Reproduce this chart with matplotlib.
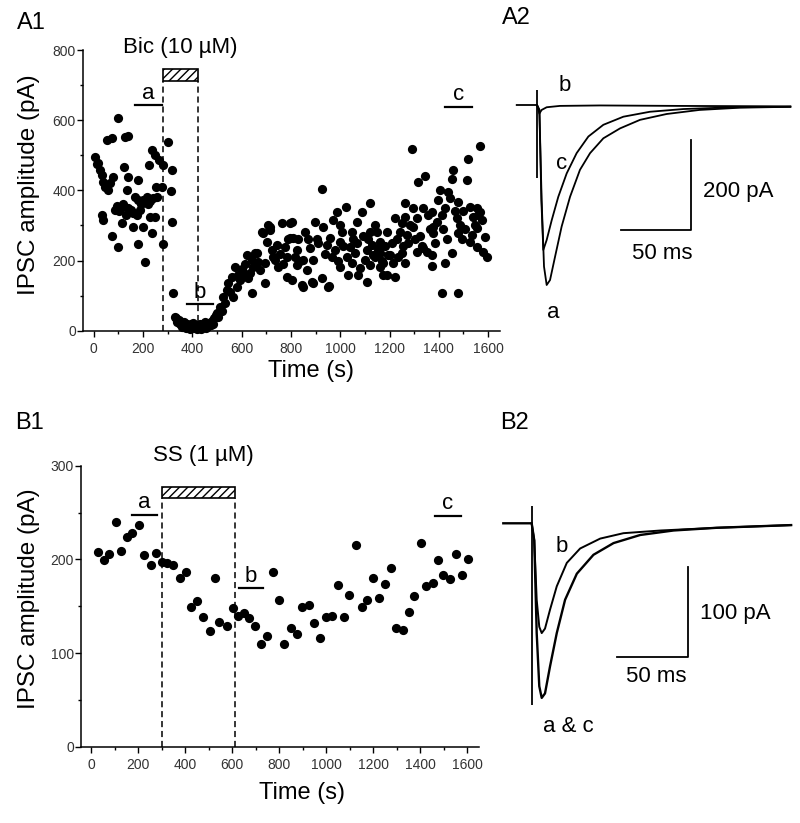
import matplotlib
matplotlib.use("Agg")
import matplotlib.pyplot as plt
from matplotlib.patches import Rectangle
from matplotlib.ticker import MultipleLocator

plt.rcParams['font.family'] = ['Liberation Sans', 'DejaVu Sans']
plt.rcParams['hatch.linewidth'] = 1.0

# ---------------- A1: bicuculline experiment (time in s, IPSC amplitude in pA)
a1_time = [
    6, 12, 17, 26, 36, 40, 47, 53, 60, 67, 74, 80, 33, 40, 74, 98, 101, 88, 95, 105,
    112, 114, 118, 125, 128, 130, 134, 141, 141, 141, 150, 161, 161, 170, 175, 179, 182, 182, 190, 192,
    202, 202, 209, 215, 220, 225, 229, 230, 236, 236, 242, 249, 249, 252, 256, 266, 276, 283, 283, 301,
    313, 317, 320, 324,
    330, 335, 340, 345, 350, 355, 360, 365, 370, 375, 380, 385, 390, 395, 400, 405, 410, 415, 420, 425,
    430, 435, 440, 445, 450, 455, 460, 465, 470, 475, 480, 485, 490,
    497, 500, 505, 513, 520, 526, 533, 540, 546, 553, 560, 567, 574, 580, 587, 594, 600, 607, 614, 621,
    628, 635, 641, 641, 648, 655, 662, 668, 675, 682, 688, 695, 695, 702, 709, 716, 716, 722, 729, 736,
    742, 749, 756, 763, 770, 776, 783, 783, 790, 796, 796, 803, 803, 810, 817, 824, 824, 830, 837, 844,
    850, 850, 857, 864, 870, 878, 884, 891, 891, 898, 905, 912, 925, 928, 932, 939, 945, 952, 956, 959,
    965, 972, 979, 986, 992, 999, 999, 999, 1006, 1013, 1024, 1026, 1033, 1040, 1047, 1047, 1053, 1060, 1067, 1067,
    1073, 1080, 1087, 1094, 1101, 1107, 1107, 1114, 1121, 1121, 1121, 1128, 1134, 1141, 1141, 1148, 1155, 1161, 1161, 1161,
    1161, 1168, 1175, 1175, 1182, 1188, 1188, 1195, 1202, 1209, 1215, 1222, 1222, 1229, 1236, 1242, 1249, 1249, 1256, 1263,
    1263, 1263, 1270, 1276, 1283, 1290, 1296, 1296, 1303, 1310, 1310, 1317, 1324, 1330, 1337, 1337, 1344, 1351, 1357, 1364,
    1371, 1371, 1371, 1377, 1377, 1384, 1391, 1398, 1405, 1411, 1411, 1418, 1425, 1425, 1432, 1438, 1445, 1452, 1452, 1458,
    1465, 1472, 1479, 1479, 1479, 1486, 1493, 1500, 1506, 1513, 1519, 1526, 1526, 1533, 1540, 1547, 1553, 1553, 1553, 1560,
    1567, 1567, 1574, 1580, 1587, 1594,
]
a1_amp = [
    496, 475, 477, 458, 444, 425, 410, 543, 401, 420, 548, 439, 330, 315, 270, 239, 605, 345, 355, 340,
    350, 306, 360, 467, 551, 330, 401, 555, 437, 349, 345, 335, 296, 380, 330, 246, 430, 372, 345, 360,
    372, 296, 197, 382, 360, 472, 323, 370, 515, 278, 377, 501, 325, 410, 382, 486, 410, 472, 247, 539,
    399, 458, 311, 108,
    40, 35, 25, 30, 18, 22, 10, 25, 15, 8, 20, 12, 5, 18, 10, 22, 8, 15, 5, 12,
    20, 6, 15, 10, 25, 8, 18, 12, 22, 15, 28, 20, 35,
    45, 50, 38, 68, 55, 97, 80, 116, 135, 110, 154, 97, 182, 125, 160, 144, 175, 164, 190, 216,
    150, 164, 201, 107, 182, 221, 221, 195, 173, 282, 278, 135, 192, 254, 301, 287, 296, 230, 210, 201,
    245, 182, 220, 306, 190, 239, 211, 154, 260, 308, 263, 311, 144, 263, 211, 230, 187, 262, 200, 130,
    201, 125, 282, 173, 262, 235, 140, 201, 135, 311, 260, 250, 403, 149, 296, 220, 244, 125, 127, 263,
    210, 316, 230, 339, 200, 301, 254, 182, 280, 240, 352, 211, 159, 239, 282, 192, 260, 221, 311, 249,
    159, 178, 339, 270, 201, 230, 140, 260, 363, 282, 187, 245, 215, 301, 211, 282, 230, 239, 182, 254,
    221, 200, 159, 192, 240, 282, 159, 215, 216, 249, 192, 320, 154, 260, 210, 280, 306, 221, 240, 363,
    325, 192, 273, 249, 300, 517, 349, 296, 260, 320, 225, 425, 270, 240, 349, 235, 441, 225, 330, 290,
    339, 216, 185, 296, 278, 250, 310, 372, 401, 330, 107, 290, 349, 194, 260, 396, 377, 431, 221, 458,
    340, 320, 368, 278, 107, 301, 260, 340, 290, 429, 488, 353, 254, 273, 325, 300, 349, 292, 239, 330,
    526, 339, 315, 225, 268, 211,
]
bic_period = [282, 425]
a1_marks = ['a', 'b', 'c']
a1_mark_start = [168, 378, 1425]
a1_mark_end = [276, 486, 1533]
a1_mark_level = [643, 76, 638]

# ---------------- B1: somatostatin experiment
b1_time = [
    28, 54, 78, 106, 127, 152, 174, 205, 226, 254, 275, 301, 325, 350, 377, 402, 426, 452, 476, 504,
    529, 546, 579, 603, 625, 649, 671, 699, 724, 750, 773, 801, 823, 851, 878, 899, 928, 950, 974, 999,
    1027, 1050, 1077, 1099, 1126, 1152, 1176, 1201, 1226, 1251, 1277, 1298, 1329, 1353, 1374, 1403, 1426, 1454, 1478, 1499,
    1528, 1553, 1577, 1603,
]
b1_amp = [
    208, 199, 206, 240, 209, 224, 228, 237, 205, 194, 207, 197, 196, 194, 180, 187, 149, 156, 139, 123,
    180, 133, 129, 148, 140, 143, 137, 129, 110, 118, 187, 157, 110, 127, 120, 149, 151, 132, 116, 139,
    140, 173, 138, 162, 215, 149, 157, 180, 159, 174, 191, 127, 125, 144, 161, 218, 172, 175, 199, 183,
    179, 206, 183, 200,
]
ss_period = [303, 614]
b1_marks = ['a', 'b', 'c']
b1_mark_start = [174, 628, 1464]
b1_mark_end = [282, 733, 1573]
b1_mark_level = [247, 169, 246]

# ---------------- A2 traces (ms, pA)
a2_a_t = [0, 1.7, 3.3, 5.0, 6.9, 9.3, 12.9, 17.6, 23.6, 30.7, 37.9, 47.4, 59.3, 73.6, 92.6, 116, 145, 181]
a2_a_i = [0, -11, -211, -359, -400, -389, -337, -270, -204, -144, -107, -74, -52, -33, -20, -11, -6, -4]
a2_c_t = [0, 1.7, 3.1, 4.5, 6.9, 10.5, 15.2, 21.2, 28.3, 36.7, 47.4, 61.7, 80.7, 104.5, 140, 181]
a2_c_i = [0, -11, -211, -322, -300, -256, -204, -152, -107, -70, -44, -26, -15, -9, -5, -4]
a2_b_t = [-14.5, 0, 1.7, 3.3, 6.9, 16.4, 45, 100, 181]
a2_b_i = [0, 0, -19, -11, -5, -2, -1, -2, -3]
a2_artifact = [33, -163]

# ---------------- B2 traces (ms, pA)
b2_ac_t = [-19.8, 0, 1.8, 3.5, 5.3, 7.0, 9.3, 12.8, 17.5, 23.3, 31.5, 43.1, 57.1, 75.7, 99, 129, 181]
b2_ac_i = [0, 0, -19, -122, -181, -194, -189, -159, -122, -85, -56, -35, -22, -13, -8, -5, -2]
b2_b_t = [0, 1.8, 3.5, 5.3, 7.0, 9.3, 12.8, 17.5, 24.5, 33.8, 47.8, 64, 90, 129, 181]
b2_b_i = [0, -19, -85, -115, -122, -117, -96, -70, -44, -28, -17, -11, -8, -5, -2]
b2_artifact = [19, -202]

W, H = 800, 823
fig = plt.figure(figsize=(W / 100, H / 100), dpi=100)


def px_axes(x0, y0, x1, y1):
    # axes from pixel box (top-left origin)
    return fig.add_axes([x0 / W, 1 - y1 / H, (x1 - x0) / W, (y1 - y0) / H])


def style_scatter_axes(ax):
    for s in ['top', 'right']:
        ax.spines[s].set_visible(False)
    for s in ['left', 'bottom']:
        ax.spines[s].set_linewidth(1.1)
    ax.tick_params(which='major', length=4, width=1.0, labelsize=10, labelcolor='#333333')
    ax.tick_params(axis='y', which='major', pad=1)
    ax.tick_params(axis='x', which='major', pad=4)
    ax.tick_params(which='minor', length=2.5, width=1.0)


def drug_bar(ax, period, y0, y1):
    ax.add_patch(Rectangle((period[0], y0), period[1] - period[0], y1 - y0,
                           facecolor='white', edgecolor='black', hatch='////',
                           linewidth=1.2, clip_on=False, zorder=3))
    ax.vlines(period, 0, y0, colors='black', linewidth=1.1,
              linestyles=(0, (4, 2.5)), zorder=1)


def marks(ax, names, starts, ends, levels, dy):
    for n, s, e, lv in zip(names, starts, ends, levels):
        ax.plot([s, e], [lv, lv], color='black', lw=1.6, clip_on=False)
        ax.text((s + e) / 2, lv + dy, n, ha='center', va='bottom', fontsize=16)


# ---- A1
ax1 = px_axes(82.7, 50, 500, 330.7)
ax1.scatter(a1_time, a1_amp, s=44, color='black', linewidths=0, clip_on=False, zorder=2)
ax1.set_xlim(-44, 1648)
ax1.set_ylim(0, 800)
ax1.xaxis.set_major_locator(MultipleLocator(200))
ax1.xaxis.set_minor_locator(MultipleLocator(100))
ax1.yaxis.set_major_locator(MultipleLocator(200))
ax1.yaxis.set_minor_locator(MultipleLocator(100))
style_scatter_axes(ax1)
drug_bar(ax1, bic_period, 712, 745)
ax1.text(sum(bic_period) / 2, 806, 'Bic (10 \u00b5M)', ha='center', va='center', fontsize=16)
marks(ax1, a1_marks, a1_mark_start, a1_mark_end, a1_mark_level, 4)
ax1.set_xlabel('Time (s)', fontsize=17)
ax1.set_ylabel('IPSC amplitude (pA)', fontsize=17.5)
ax1.xaxis.set_label_coords(0.547, -0.105)
ax1.yaxis.set_label_coords(-0.102, 0.52)

# ---- B1
ax3 = px_axes(81, 465.7, 479.3, 746.7)
ax3.scatter(b1_time, b1_amp, s=44, color='black', linewidths=0, clip_on=False, zorder=2)
ax3.set_xlim(-43, 1652)
ax3.set_ylim(0, 300)
ax3.xaxis.set_major_locator(MultipleLocator(200))
ax3.xaxis.set_minor_locator(MultipleLocator(100))
ax3.yaxis.set_major_locator(MultipleLocator(100))
ax3.yaxis.set_minor_locator(MultipleLocator(50))
style_scatter_axes(ax3)
drug_bar(ax3, ss_period, 266, 277)
ax3.text(477, 311, 'SS (1 \u00b5M)', ha='center', va='center', fontsize=16)
marks(ax3, b1_marks, b1_mark_start, b1_mark_end, b1_mark_level, 2)
ax3.set_xlabel('Time (s)', fontsize=17)
ax3.set_ylabel('IPSC amplitude (pA)', fontsize=17.5)
ax3.xaxis.set_label_coords(0.554, -0.125)
ax3.yaxis.set_label_coords(-0.103, 0.527)

# ---- A2 traces
ax2 = px_axes(510, 60, 800, 330)
ax2.set_xlim(-19.3, 187.9)
ax2.set_ylim(-500, 100)
ax2.axis('off')
ax2.plot(a2_a_t, a2_a_i, color='black', lw=1.3)
ax2.plot(a2_c_t, a2_c_i, color='black', lw=1.3)
ax2.plot(a2_b_t, a2_b_i, color='black', lw=1.3)
ax2.vlines(0, a2_artifact[1], a2_artifact[0], color='black', lw=1.3)
ax2.plot([59.8, 109.8, 109.8], [-277.8, -277.8, -77.8], color='black', lw=1.3)
ax2.text(118.6, -193, '200 pA', ha='left', va='center', fontsize=16)
ax2.text(89.3, -329, '50 ms', ha='center', va='center', fontsize=16)
ax2.text(11.4, -462, 'a', ha='center', va='center', fontsize=16)
ax2.text(17.9, -129, 'c', ha='center', va='center', fontsize=16)
ax2.text(20, 44, 'b', ha='center', va='center', fontsize=16)

# ---- B2 traces
ax4 = px_axes(500, 480, 800, 760)
ax4.set_xlim(-22.1, 187.2)
ax4.set_ylim(-263, 48.1)
ax4.axis('off')
ax4.plot(b2_ac_t, b2_ac_i, color='black', lw=1.7)
ax4.plot(b2_b_t, b2_b_i, color='black', lw=1.4)
ax4.vlines(0, b2_artifact[1], b2_artifact[0], color='black', lw=1.3)
ax4.plot([59.3, 109.3, 109.3], [-148.2, -148.2, -48.2], color='black', lw=1.3)
ax4.text(117.4, -100, '100 pA', ha='left', va='center', fontsize=16)
ax4.text(87.2, -170.4, '50 ms', ha='center', va='center', fontsize=16)
ax4.text(25.3, -226, 'a & c', ha='center', va='center', fontsize=16)
ax4.text(20.7, -26, 'b', ha='center', va='center', fontsize=16)

# ---- panel labels
for lbl, x, y in [('A1', 17, 23), ('A2', 502, 18), ('B1', 15, 423), ('B2', 500, 423)]:
    fig.text(x / W, 1 - y / H, lbl, ha='left', va='center', fontsize=17)

fig.savefig('out.png', dpi=100)
